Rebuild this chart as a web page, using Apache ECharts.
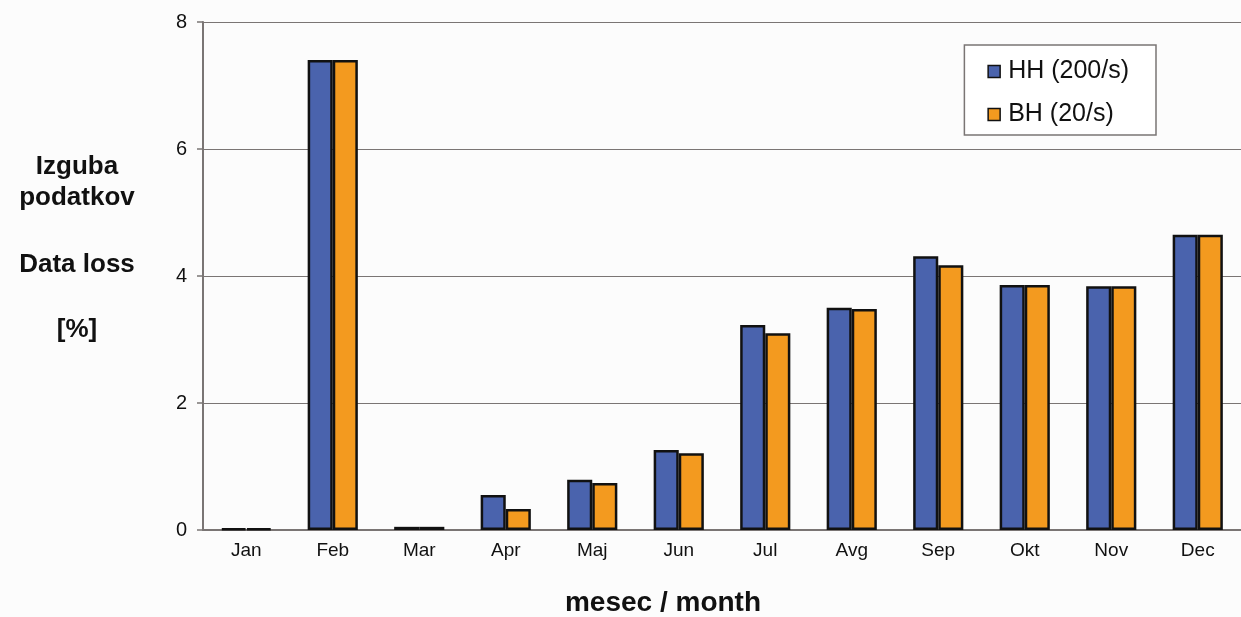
<!DOCTYPE html>
<html>
<head>
<meta charset="utf-8">
<script src="https://cdn.jsdelivr.net/npm/echarts@6/dist/echarts.min.js"></script>
<style>
  html, body { margin: 0; padding: 0; background: #fcfcfc; }
  #chart { width: 1241px; height: 617px; }
</style>
</head>
<body>
<div id="chart"></div>
<script>
// mesec / month
const months = ['Jan', 'Feb', 'Mar', 'Apr', 'Maj', 'Jun', 'Jul', 'Avg', 'Sep', 'Okt', 'Nov', 'Dec']
// izguba podatkov [%]
const hhValues = [0.02, 7.40, 0.05, 0.55, 0.79, 1.26, 3.23, 3.50, 4.31, 3.86, 3.84, 4.65]
const bhValues = [0.02, 7.40, 0.05, 0.33, 0.74, 1.21, 3.10, 3.48, 4.17, 3.86, 3.84, 4.65]
const yTicks = [0, 2, 4, 6, 8]

const font = '"Liberation Sans", Arial, sans-serif'
const chart = echarts.init(document.getElementById('chart'))

chart.setOption({
    backgroundColor: '#fcfcfc',
    animation: false,
    textStyle: { fontFamily: font },
    grid: { left: 203, right: -2, top: 22, bottom: 87 },
    legend: {
        right: 85,
        top: 45,
        orient: 'vertical',
        padding: [14, 27, 8, 23],
        itemGap: 18,
        itemWidth: 12,
        itemHeight: 12,
        icon: 'rect',
        backgroundColor: '#ffffff',
        borderColor: '#7a7574',
        borderWidth: 1.5,
        borderRadius: 0,
        textStyle: { fontSize: 25, color: '#111', fontFamily: font, padding: [0, 0, 0, 3] },
        itemStyle: { borderColor: '#111', borderWidth: 1.5 },
        data: ['HH (200/s)', 'BH (20/s)']
    },
    xAxis: {
        type: 'category',
        data: months,
        axisLine: { lineStyle: { color: '#7a7574', width: 2 } },
        axisTick: { show: false },
        axisLabel: { fontSize: 19, color: '#111', margin: 11 }
    },
    yAxis: {
        type: 'value',
        min: yTicks[0],
        max: yTicks[yTicks.length - 1],
        interval: 2,
        axisLine: { show: true, lineStyle: { color: '#7a7574', width: 2 } },
        axisTick: { show: true, length: 6, lineStyle: { color: '#7a7574', width: 1.5 } },
        axisLabel: { fontSize: 20, color: '#111', margin: 16 },
        splitLine: { lineStyle: { color: '#7a7574', width: 1.2 } }
    },
    graphic: [
        { type: 'text', x: 77, y: 167, style: { text: 'Izguba', font: 'bold 26px ' + font, fill: '#111', align: 'center', verticalAlign: 'middle' } },
        { type: 'text', x: 77, y: 198, style: { text: 'podatkov', font: 'bold 26px ' + font, fill: '#111', align: 'center', verticalAlign: 'middle' } },
        { type: 'text', x: 77, y: 265, style: { text: 'Data loss', font: 'bold 26px ' + font, fill: '#111', align: 'center', verticalAlign: 'middle' } },
        { type: 'text', x: 77, y: 330, style: { text: '[%]', font: 'bold 26px ' + font, fill: '#111', align: 'center', verticalAlign: 'middle' } },
        { type: 'text', x: 663, y: 603, style: { text: 'mesec / month', font: 'bold 28px ' + font, fill: '#111', align: 'center', verticalAlign: 'middle' } }
    ],
    series: [
        {
            name: 'HH (200/s)',
            type: 'bar',
            data: hhValues,
            barGap: '0%',
            barCategoryGap: '42%',
            itemStyle: { color: '#4a63ad', borderColor: '#111', borderWidth: 2.5 }
        },
        {
            name: 'BH (20/s)',
            type: 'bar',
            data: bhValues,
            barGap: '0%',
            barCategoryGap: '42%',
            itemStyle: { color: '#f39a1f', borderColor: '#111', borderWidth: 2.5 }
        }
    ]
})
</script>
</body>
</html>
